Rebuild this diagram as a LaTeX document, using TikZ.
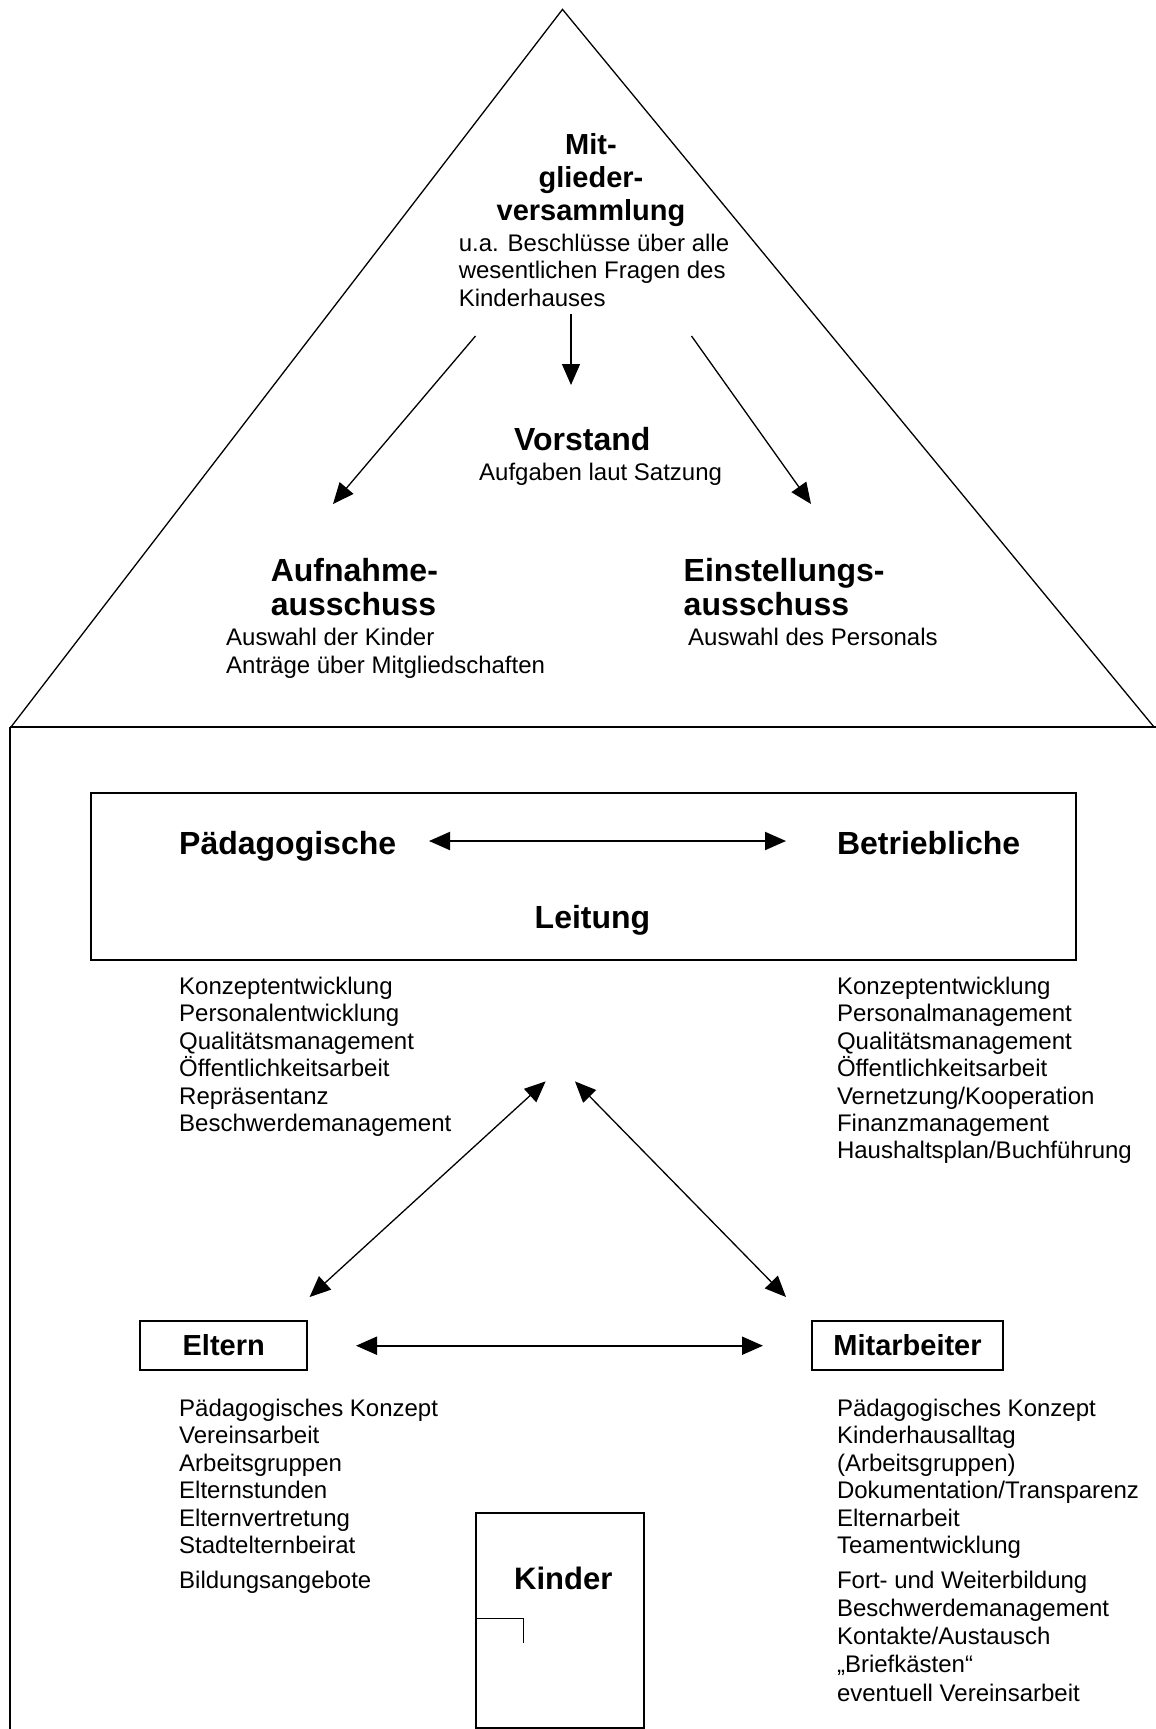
\documentclass[tikz,border=0pt]{standalone}
\usepackage{fontspec}
\setmainfont{Liberation Sans}
\usetikzlibrary{arrows.meta}
\begin{document}
\begin{tikzpicture}[x=1pt,y=-1pt,
  small/.style={font=\fontsize{24}{27.5}\selectfont, anchor=base west, inner sep=0pt},
  head/.style={font=\bfseries\fontsize{32}{34}\selectfont, anchor=base west, inner sep=0pt},
  headm/.style={font=\bfseries\fontsize{29}{33}\selectfont, anchor=base, inner sep=0pt},
  arr/.style={-{Triangle[length=21pt,width=18pt]}, line width=1.3pt},
  darr/.style={{Triangle[length=21pt,width=18pt]}-{Triangle[length=21pt,width=18pt]}, line width=1.3pt},
  harr/.style={darr, line width=2pt},
  frame/.style={draw, line width=2pt, inner sep=0pt},
  boxlabel/.style={frame, font=\bfseries\fontsize{29}{33}\selectfont, minimum height=48.9pt}
]
\useasboundingbox (0,0) rectangle (1156,1729);
% roof and house
\draw[line width=1.3pt] (11,727) -- (562.5,9.4) -- (1154,727);
\draw[line width=2pt] (10,727) -- (1156,727);
\draw[line width=1.5pt] (10,727) -- (10,1729);

% Mitgliederversammlung
\node[headm] (mv1) at (591,154.4) {Mit-};
\node[headm] (mv2) at (591,187.4) {glieder-};
\node[headm] (mv3) at (591,220.4) {versammlung};
\node[small] (mva) at (458.6,251.6) {u.a. Beschlüsse über alle};
\node[small] (mvb) at (458.6,278.9) {wesentlichen Fragen des};
\node[small] (mvc) at (458.6,306.2) {Kinderhauses};

% Vorstand
\node[head] (vor) at (514,450.3) {Vorstand};
\node[small] (vora) at (479,480.6) {Aufgaben laut Satzung};

% Ausschuesse
\node[head] (auf1) at (270.6,581.5) {Aufnahme-};
\node[head] (auf2) at (270.6,615.5) {ausschuss};
\node[small] (aufa) at (226,645.6) {Auswahl der Kinder};
\node[small] (aufb) at (226,673) {Anträge über Mitgliedschaften};
\node[head] (ein1) at (683.5,581.5) {Einstellungs-};
\node[head] (ein2) at (683.5,615.5) {ausschuss};
\node[small] (eina) at (688,645.6) {Auswahl des Personals};

% top arrows
\coordinate (mvS) at (571,314);
\coordinate (vorT) at (571,385);
\coordinate (mvL) at (475.5,336);
\coordinate (aufT) at (333,504);
\coordinate (mvR) at (691.5,336);
\coordinate (einT) at (811,504);
\draw[arr] (mvS) -- (vorT);
\draw[arr] (mvL) -- (aufT);
\draw[arr] (mvR) -- (einT);

% Leitung
\node[frame, minimum width=985.7pt, minimum height=167.4pt] (leitbox) at (583.55,876.6) {};
\node[head] (paed) at (179,854.8) {Pädagogische};
\node[head] (betr) at (836.8,854.8) {Betriebliche};
\node[head] (leit) at (534.5,928.5) {Leitung};
\coordinate (paedR) at (429,841);
\coordinate (betrL) at (786,841);
\draw[harr] (paedR) -- (betrL);

\foreach \t [count=\i from 0] in {Konzeptentwicklung,Personalentwicklung,Qualitätsmanagement,Öffentlichkeitsarbeit,Repräsentanz,Beschwerdemanagement}
  \node[small, name=pl\i] at (179,994.5+27.4*\i) {\t};
\foreach \t [count=\i from 0] in {Konzeptentwicklung,Personalmanagement,Qualitätsmanagement,Öffentlichkeitsarbeit,Vernetzung/Kooperation,Finanzmanagement,Haushaltsplan/Buchführung}
  \node[small, name=bl\i] at (836.8,994.5+27.4*\i) {\t};

% lower triangle arrows
\coordinate (leitL) at (545.6,1081.4);
\coordinate (leitR) at (575,1081.4);
\coordinate (eltT) at (309.6,1297);
\coordinate (mitT) at (786,1297);
\draw[darr] (eltT) -- (leitL);
\draw[darr] (leitR) -- (mitT);

% Eltern / Mitarbeiter
\node[boxlabel, minimum width=167.4pt] (eltern) at (223.7,1345.25) {Eltern};
\node[boxlabel, minimum width=191.7pt] (mitarb) at (907.5,1345.25) {Mitarbeiter};
\coordinate (elR) at (356,1345.7);
\coordinate (miL) at (763,1345.7);
\draw[harr] (elR) -- (miL);

\foreach \t [count=\i from 0] in {Pädagogisches Konzept,Vereinsarbeit,Arbeitsgruppen,Elternstunden,Elternvertretung,Stadtelternbeirat}
  \node[small, name=el\i] at (179,1416.1+27.5*\i) {\t};
\node[small] (el6) at (179,1588.2) {Bildungsangebote};

\foreach \t [count=\i from 0] in {Pädagogisches Konzept,Kinderhausalltag,{(Arbeitsgruppen)},Dokumentation/Transparenz,Elternarbeit,Teamentwicklung}
  \node[small, name=mi\i] at (836.8,1416.1+27.5*\i) {\t};
\foreach \t [count=\i from 0] in {Fort- und Weiterbildung,Beschwerdemanagement,Kontakte/Austausch,„Briefkästen“,eventuell Vereinsarbeit}
  \node[small, name=mk\i] at (836.8,1588.2+28.25*\i) {\t};

% Kinder door
\draw[line width=2pt] (475.5,1728) -- (475.5,1513) -- (643.6,1513) -- (643.6,1728) -- cycle;
\node[font=\bfseries\fontsize{31}{34}\selectfont, anchor=base west, inner sep=0pt] (kinder) at (514,1589) {Kinder};
\draw[line width=1.6pt] (475.5,1618.4) -- (523.4,1618.4) -- (523.4,1642.6);
\end{tikzpicture}
\end{document}
